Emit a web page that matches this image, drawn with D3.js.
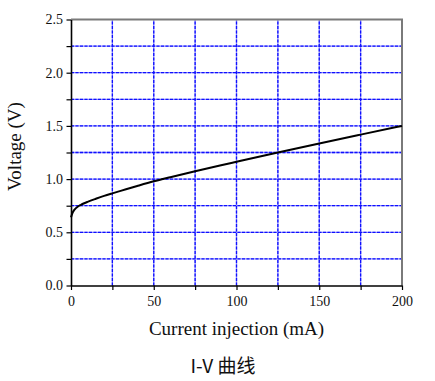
<!DOCTYPE html>
<html>
<head>
<meta charset="utf-8">
<script src="https://cdn.jsdelivr.net/npm/d3@7"></script>
<style>
  html, body { margin: 0; padding: 0; background: #fff; }
  svg { display: block; }
</style>
</head>
<body>
<svg id="chart" width="435" height="381"></svg>
<script>
// ---- data ----
const currentMA = [0, 1, 2, 3, 4, 6, 8, 10, 15, 20, 25, 30, 40, 50, 60, 75, 90, 100, 125, 150, 175, 200];
const voltageV  = [0.64, 0.685, 0.71, 0.727, 0.74, 0.758, 0.773, 0.786, 0.815, 0.842, 0.866, 0.889, 0.935, 0.979, 1.018, 1.074, 1.128, 1.163, 1.25, 1.335, 1.418, 1.50];
const xTicks = [0, 50, 100, 150, 200];
const xGrid  = [25, 50, 75, 100, 125, 150, 175];
const yTicks = [0.0, 0.5, 1.0, 1.5, 2.0, 2.5];
const yGrid  = [0.25, 0.5, 0.75, 1.0, 1.25, 1.5, 1.75, 2.0, 2.25];
const xTitle = "Current injection (mA)";
const yTitle = "Voltage (V)";
const caption = "I-V 曲线";

const svg = d3.select("#chart");
const L = 71, R = 402, T = 19.5, B = 285.5;
const x = d3.scaleLinear().domain([0, 200]).range([L, R]);
const y = d3.scaleLinear().domain([0, 2.5]).range([B, T]);

// grid lines (light underlay + dashed blue)
const grid = svg.append("g");
[["#8c8cff", null], ["#1010ff", "3,1.5"]].forEach(([col, dash]) => {
  grid.selectAll(null).data(xGrid).enter().append("line")
    .attr("x1", d => x(d)).attr("x2", d => x(d))
    .attr("y1", B).attr("y2", T)
    .attr("stroke", col).attr("stroke-width", 1.3)
    .attr("stroke-dasharray", dash);
  grid.selectAll(null).data(yGrid).enter().append("line")
    .attr("y1", d => y(d)).attr("y2", d => y(d))
    .attr("x1", L).attr("x2", R)
    .attr("stroke", col).attr("stroke-width", 1.3)
    .attr("stroke-dasharray", dash);
});

// top & right frame (gray)
svg.append("line").attr("x1", L).attr("x2", R + 1).attr("y1", T).attr("y2", T)
  .attr("stroke", "#7a7a7a").attr("stroke-width", 2);
svg.append("line").attr("x1", R).attr("x2", R).attr("y1", T).attr("y2", B)
  .attr("stroke", "#7a7a7a").attr("stroke-width", 2);

// curve
const line = d3.line()
  .x((d, i) => x(currentMA[i]))
  .y(d => y(d))
  .curve(d3.curveMonotoneX);
svg.append("path").datum(voltageV)
  .attr("d", line)
  .attr("fill", "none").attr("stroke", "#000").attr("stroke-width", 2);

// axes
const font = "'Liberation Serif', 'Times New Roman', serif";
const xAxis = d3.axisBottom(x).tickValues(d3.range(0, 201, 25))
  .tickFormat(d => xTicks.includes(d) ? d3.format("d")(d) : "")
  .tickSizeOuter(0).tickSizeInner(4.5).tickPadding(6);
const gx = svg.append("g").attr("transform", `translate(0,${B})`).call(xAxis);
const yAxis = d3.axisLeft(y).tickValues(d3.range(0, 2.51, 0.25))
  .tickFormat(d => yTicks.some(t => Math.abs(t - d) < 1e-9) ? d3.format(".1f")(d) : "")
  .tickSizeOuter(0).tickSizeInner(4.5).tickPadding(3.5);
const gy = svg.append("g").attr("transform", `translate(${L},0)`).call(yAxis);
[gx, gy].forEach(g => {
  g.attr("font-family", font).attr("font-size", 14);
  g.select(".domain").attr("stroke", "#000").attr("stroke-width", 1.6);
  g.selectAll(".tick line").attr("stroke", "#000").attr("stroke-width", 1.2);
  g.selectAll(".tick text").attr("fill", "#111").style("font-family", font).style("font-size", "14px");
});

// axis titles
svg.append("text").attr("x", (L + R) / 2).attr("y", 335)
  .attr("text-anchor", "middle").style("font-family", font).style("font-size", "19px")
  .attr("fill", "#111").text(xTitle);
svg.append("text").attr("transform", "translate(21,146.5) rotate(-90)")
  .attr("text-anchor", "middle").style("font-family", font).style("font-size", "19px")
  .attr("fill", "#111").text(yTitle);

// caption
svg.append("text").attr("x", 223).attr("y", 373)
  .attr("text-anchor", "middle")
  .style("font-family", "'Noto Sans CJK SC', 'Noto Sans', sans-serif").style("font-size", "19px")
  .attr("fill", "#111").text(caption);
</script>
</body>
</html>
